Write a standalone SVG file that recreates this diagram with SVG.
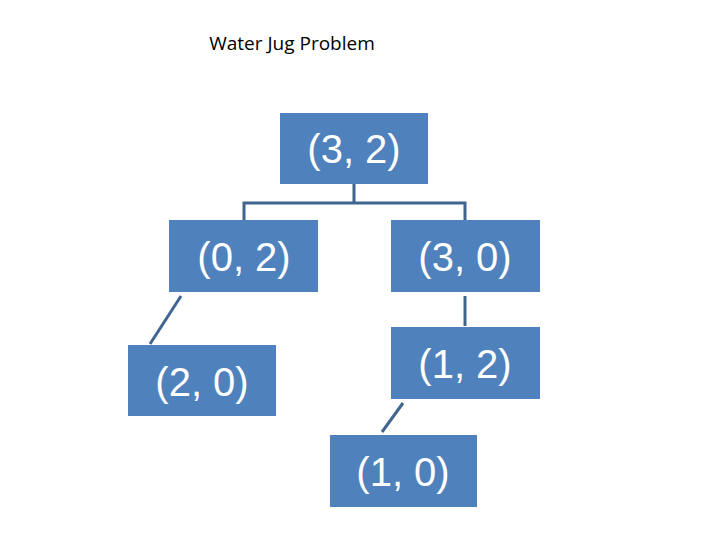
<svg xmlns="http://www.w3.org/2000/svg" width="720" height="540" viewBox="0 0 720 540">
<style>
.box{fill:#4f81bd}
.t{font-family:"Liberation Sans",Arial,sans-serif;font-size:40px;fill:#fff;text-anchor:middle}
.c{stroke:#3f6590;stroke-width:3;fill:none}
</style>
<rect width="720" height="540" fill="#fff"/>
<text x="292" y="50" font-family="Open Sans, Liberation Sans, sans-serif" font-size="19" text-anchor="middle" fill="#000">Water Jug Problem</text>
<g id="connectors">
<path class="c" d="M354 184V203M244 221V203H465V221"/>
<path class="c" d="M181 296L150 344"/>
<path class="c" d="M465 296V326"/>
<path class="c" d="M403 403L382 432"/>
</g>
<g id="n32"><rect class="box" x="280" y="113" width="148" height="71"/><text class="t" x="354" y="163">(3, 2)</text></g>
<g id="n02"><rect class="box" x="169" y="220" width="149" height="72"/><text class="t" x="244" y="271">(0, 2)</text></g>
<g id="n30"><rect class="box" x="391" y="220" width="149" height="72"/><text class="t" x="465" y="271">(3, 0)</text></g>
<g id="n20"><rect class="box" x="128" y="345" width="148" height="71"/><text class="t" x="202" y="396">(2, 0)</text></g>
<g id="n12"><rect class="box" x="391" y="327" width="149" height="72"/><text class="t" x="465" y="378">(1, 2)</text></g>
<g id="n10"><rect class="box" x="330" y="435" width="147" height="72"/><text class="t" x="403" y="486">(1, 0)</text></g>
</svg>
